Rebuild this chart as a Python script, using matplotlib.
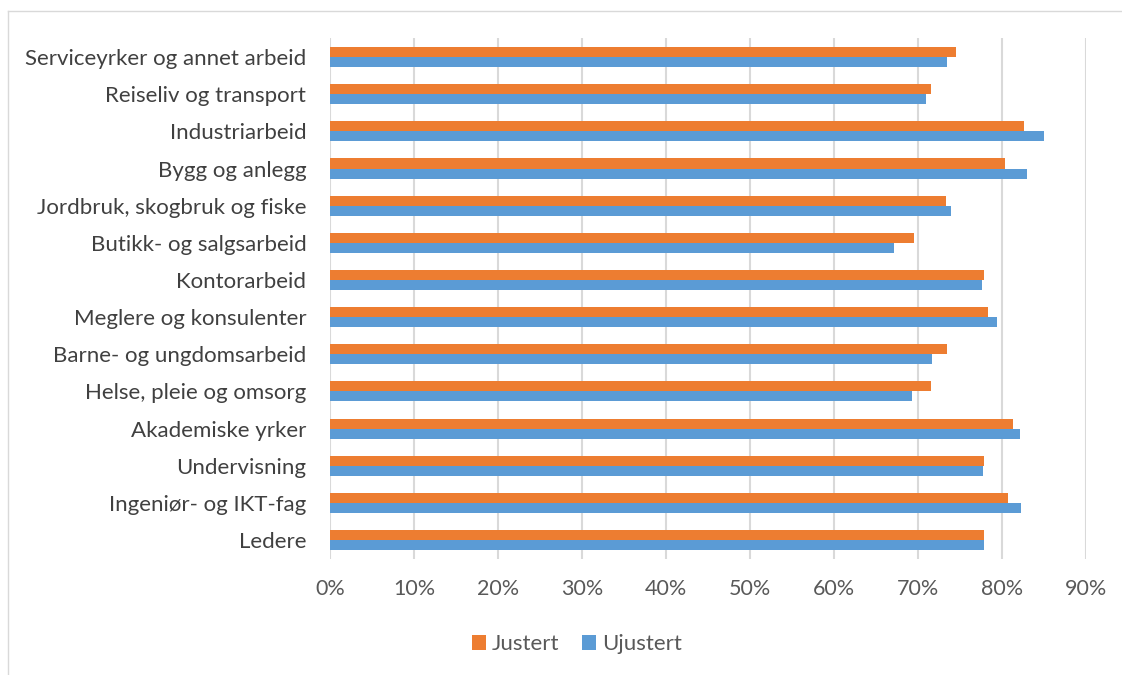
import matplotlib
matplotlib.use("Agg")
import matplotlib.pyplot as plt
from matplotlib.lines import Line2D
from matplotlib.ticker import PercentFormatter
import numpy as np

# Kategorier fra toppen og ned
categories = [
    "Serviceyrker og annet arbeid",
    "Reiseliv og transport",
    "Industriarbeid",
    "Bygg og anlegg",
    "Jordbruk, skogbruk og fiske",
    "Butikk- og salgsarbeid",
    "Kontorarbeid",
    "Meglere og konsulenter",
    "Barne- og ungdomsarbeid",
    "Helse, pleie og omsorg",
    "Akademiske yrker",
    "Undervisning",
    "Ingeniør- og IKT-fag",
    "Ledere",
]
justert = [74.5, 71.5, 82.6, 80.3, 73.3, 69.5, 77.8, 78.3, 73.5, 71.6, 81.3, 77.9, 80.7, 77.9]
ujustert = [73.5, 71.0, 85.0, 83.0, 73.9, 67.1, 77.6, 79.4, 71.7, 69.3, 82.1, 77.7, 82.3, 77.9]

plt.rcParams['font.family'] = ['Lato', 'DejaVu Sans']

fig = plt.figure(figsize=(11.22, 6.75), dpi=100)
ax = fig.add_axes([0.2941, 0.1724, 0.6738, 0.7706])

y = np.arange(len(categories))[::-1]
h = 0.27
ax.barh(y + h / 2, justert, height=h, color='#ED7D31', label='Justert')
ax.barh(y - h / 2, ujustert, height=h, color='#5B9BD5', label='Ujustert')

ax.set_xlim(0, 90)
ax.set_ylim(-0.5, len(categories) - 0.5)
ax.set_xticks(range(0, 91, 10))
ax.xaxis.set_major_formatter(PercentFormatter(decimals=0))
ax.set_yticks(y)
ax.set_yticklabels(categories)
ax.tick_params(axis='y', length=0, pad=17, labelsize=16, labelcolor='#404040')
ax.tick_params(axis='x', length=0, pad=15, labelsize=15.5, labelcolor='#595959')
ax.grid(axis='x', color='#d9d9d9', linewidth=1.5)
ax.set_axisbelow(True)
for s in ax.spines.values():
    s.set_visible(False)

fig.legend(loc='center', bbox_to_anchor=(0.514, 0.046), ncol=2, frameon=False,
           fontsize=16, handlelength=0.65, handleheight=0.65, handletextpad=0.25,
           columnspacing=1.0, labelcolor='#595959')

# Ramme rundt diagrammet
fig.add_artist(Line2D([8 / 1122, 8 / 1122], [0, 1 - 11 / 675], color='#d9d9d9', lw=1))
fig.add_artist(Line2D([8 / 1122, 1], [1 - 11 / 675, 1 - 11 / 675], color='#d9d9d9', lw=1))

fig.savefig('out.png', dpi=100)
